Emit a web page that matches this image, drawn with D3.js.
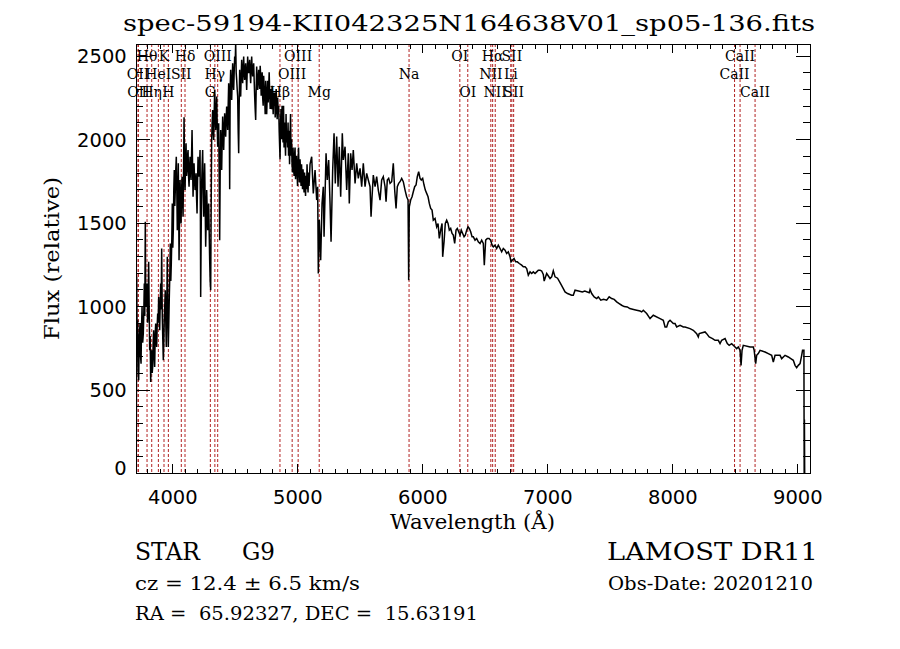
<!DOCTYPE html>
<html><head><meta charset="utf-8">
<script src="https://cdn.jsdelivr.net/npm/d3@7"></script>
<style>body{margin:0;background:#fff}svg{display:block}</style>
</head><body>
<svg id="c" width="900" height="649"></svg>
<script>
// ---------------- data ----------------
const wavelength = [
3711,3713,3715,3719,3723,3727,3731,3736,3742,3746,3750,3754,3758,3763,3768,3772,3776,3780,3784,3787,
3790,3794,3798,3802,3806,3811,3815,3819,3823,3827,3831,3835,3839,3843,3847,3851,3855,3859,3863,3867,
3871,3875,3879,3883,3887,3891,3895,3899,3903,3907,3911,3915,3920,3924,3928,3932,3936,3940,3944,3948,
3952,3956,3960,3964,3968,3972,3976,3980,3984,3988,3992,3996,4000,4004,4008,4012,4016,4020,4024,4028,
4032,4036,4040,4044,4048,4051,4054,4058,4062,4066,4070,4074,4078,4082,4086,4090,4094,4098,4102,4106,
4110,4114,4118,4122,4126,4130,4134,4138,4142,4146,4150,4154,4158,4162,4166,4170,4174,4178,4182,4186,
4190,4194,4198,4202,4206,4210,4214,4218,4222,4225,4227,4231,4235,4239,4243,4247,4251,4255,4259,4263,
4267,4271,4275,4279,4283,4287,4291,4295,4299,4303,4307,4311,4315,4319,4323,4327,4331,4335,4339,4343,
4347,4351,4355,4359,4363,4367,4371,4375,4379,4383,4387,4391,4395,4399,4403,4407,4411,4415,4419,4423,
4427,4431,4435,4439,4443,4447,4451,4455,4459,4463,4467,4471,4475,4479,4483,4487,4491,4495,4499,4503,
4507,4511,4515,4519,4523,4527,4531,4535,4539,4543,4547,4551,4555,4559,4563,4567,4571,4575,4579,4583,
4587,4591,4595,4599,4603,4607,4611,4615,4619,4623,4627,4631,4635,4639,4643,4647,4651,4655,4659,4663,
4667,4671,4675,4679,4683,4687,4691,4695,4699,4703,4707,4711,4715,4719,4723,4727,4731,4735,4739,4743,
4747,4751,4755,4759,4763,4767,4771,4775,4779,4783,4787,4791,4795,4799,4803,4807,4811,4815,4819,4823,
4827,4831,4835,4839,4843,4847,4851,4855,4859,4862,4866,4870,4874,4878,4882,4886,4890,4894,4898,4902,
4906,4910,4914,4918,4922,4926,4930,4934,4938,4942,4946,4950,4954,4958,4962,4966,4970,4974,4978,4982,
4986,4990,4994,4998,5002,5006,5010,5014,5018,5022,5026,5030,5034,5038,5042,5046,5050,5054,5058,5062,
5066,5070,5074,5078,5082,5086,5090,5094,5102,5115,5128,5142,5155,5163,5168,5176,5187,5198,5208,5214,
5230,5240,5251,5262,5270,5283,5294,5304,5315,5326,5336,5347,5360,5368,5382,5395,5408,5416,5427,5438,
5448,5462,5475,5488,5502,5515,5528,5542,5555,5568,5582,5590,5598,5608,5622,5635,5648,5662,5675,5688,
5702,5710,5720,5731,5742,5755,5768,5779,5790,5800,5811,5822,5835,5848,5862,5875,5886,5891,5896,5907,
5918,5928,5939,5950,5960,5971,5982,5992,6003,6014,6024,6035,6046,6056,6067,6078,6088,6102,6115,6126,
6136,6147,6158,6163,6174,6184,6195,6206,6216,6227,6238,6248,6259,6270,6280,6291,6302,6312,6323,6334,
6344,6355,6366,6376,6387,6398,6408,6422,6435,6448,6462,6475,6488,6496,6507,6520,6534,6547,6558,6568,
6582,6595,6608,6622,6635,6648,6662,6675,6688,6702,6710,6720,6734,6747,6760,6776,6795,6808,6822,6835,
6848,6862,6875,6888,6902,6915,6928,6942,6955,6968,6975,6995,7022,7035,7048,7062,7082,7102,7128,7142,
7162,7195,7208,7222,7250,7280,7300,7335,7342,7355,7375,7395,7408,7428,7450,7475,7495,7515,7535,7555,
7575,7595,7615,7640,7660,7690,7715,7742,7755,7768,7795,7822,7848,7902,7928,7942,7955,7968,7982,8008,
8022,8035,8062,8088,8102,8142,8168,8195,8208,8215,8262,8275,8295,8322,8342,8368,8382,8395,8422,8440,
8455,8475,8502,8515,8528,8542,8550,8558,8568,8622,8648,8655,8667,8675,8688,8702,8742,8768,8795,8808,
8822,8862,8875,8902,8928,8948,8968,8982,8995,9008,9022,9035,9042,9053,9055,9057,9059
];
const flux = [
0,480,1175,760,915,620,555,820,895,700,655,880,995,780,835,960,1135,940,1505,1100,
995,1080,1135,900,955,1265,980,735,820,545,700,735,600,635,780,855,700,635,820,895,
800,755,880,955,900,1055,920,855,1000,1135,980,1345,935,800,675,780,935,1010,1095,900,
755,1000,1295,980,755,900,1055,1180,1375,1150,1255,1400,1615,1350,1455,1700,1815,1600,1695,1820,
1895,1700,1455,1650,1855,1600,1275,1550,1755,1620,1495,1680,1775,1650,1535,1800,2131,1850,1695,1850,
1975,1780,1815,1900,1935,1780,1715,1820,1895,1800,1755,1900,2055,1850,1655,1780,1855,1760,1695,1720,
1795,1650,1555,1750,1895,1800,1775,1850,1935,1500,1055,1450,1735,1850,1935,1700,1535,1700,1855,1600,
1355,1500,1695,1580,1455,1550,1615,1450,1275,1150,1095,1600,1995,2100,2175,2050,1995,2150,2295,2150,
2055,2150,2255,2100,1955,2000,2095,1800,1395,1800,2055,1950,1815,2000,2135,2050,1935,2050,2155,2080,
2015,2120,2195,2120,2055,2200,2335,2220,1700,2300,2415,2300,2235,2350,2455,2360,2295,2400,2495,2450,
2575,2400,2355,2300,2255,2050,1915,2200,2415,2300,2255,2380,2475,2400,2335,2420,2495,2400,2355,2420,
2455,2380,2295,2400,2495,2420,2395,2440,2475,2400,2335,2420,2495,2420,2375,2420,2455,2350,2255,2180,
2115,2300,2435,2350,2295,2360,2415,2350,2300,2440,2380,2260,2350,2400,2250,2200,2380,2300,2250,2150,
2350,2280,2150,2250,2350,2220,2300,2400,2280,2180,2300,2220,2180,2320,2250,2150,2280,2200,2280,2130,
2180,2300,2200,2120,2250,2150,2200,2050,1950,1880,2100,2180,2000,2200,2050,1980,2200,1950,2100,2000,
1900,2150,1980,2050,1950,2100,1900,2050,1850,2000,2150,1900,2000,1850,1800,1950,1850,1780,1900,1950,
1760,1850,1900,1800,1720,1850,1950,1800,1740,1880,1800,1720,1850,1760,1700,1820,1750,1680,1800,1720,
1660,1780,1700,1850,1740,1680,1800,1720,1850,1895,1675,1815,1635,1715,1195,1515,1275,1615,1715,1415,
1915,1755,1875,1615,1385,1815,2035,1735,2015,1715,1955,1655,2035,1875,1955,1695,1915,1615,1915,1815,
1935,1735,1855,1765,1825,1715,1855,1715,1795,1755,1715,1535,1655,1785,1715,1775,1695,1635,1755,1775,
1715,1625,1755,1765,1735,1745,1855,1695,1585,1715,1735,1745,1765,1745,1695,1655,1635,1155,1595,1635,
1655,1685,1715,1725,1775,1805,1765,1755,1765,1725,1695,1675,1655,1615,1585,1575,1515,1525,1475,1495,
1405,1455,1495,1295,1385,1495,1515,1495,1455,1465,1435,1425,1375,1455,1465,1445,1425,1455,1435,1415,
1425,1455,1475,1465,1445,1415,1415,1395,1405,1385,1375,1395,1375,1245,1395,1405,1405,1395,1365,1355,
1365,1345,1365,1345,1325,1345,1335,1315,1325,1295,1265,1275,1285,1265,1265,1255,1245,1235,1235,1225,
1185,1205,1195,1205,1195,1205,1215,1215,1210,1190,1150,1195,1165,1175,1211,1175,1167,1140,1105,1085,
1075,1065,1065,1095,1090,1085,1090,1080,1099,1075,1055,1045,1055,1035,1040,1035,1055,1045,1040,1025,
1015,1005,997,995,985,980,975,970,965,975,955,925,945,925,915,875,875,905,915,895,
895,875,885,875,875,865,855,835,815,835,845,835,815,805,795,795,775,795,805,775,
765,775,755,745,755,735,645,735,765,755,755,735,655,705,715,735,725,715,705,665,
705,705,685,705,695,685,675,645,631,645,655,705,735,735,0,320,0
];
const lineNames = ["OII","OII","Hθ","Hη","HeI","K","H","SII","Hδ","G","Hγ","OIII","Hβ","OIII","OIII","Mg",
  "Na","OI","OI","NII","Hα","NII","Li","SII","SII","CaII","CaII","CaII"];
const lineWaves = [3726.0,3728.8,3797.9,3835.4,3888.6,3933.7,3968.5,4072.0,4101.7,4304.4,4340.5,4363.2,4861.3,4958.9,5006.8,5175.3,
  5894.0,6300.3,6363.8,6548.1,6562.8,6583.5,6707.8,6716.4,6730.8,8498.0,8542.1,8662.1];
const lineRows = [2,3,1,3,2,1,3,2,1,3,2,1,3,2,1,3,2,1,3,2,1,3,2,1,3,2,1,3];
const xTicks = [4000,5000,6000,7000,8000,9000];
const yTicks = [0,500,1000,1500,2000,2500];
const titleText = "spec-59194-KII042325N164638V01_sp05-136.fits";
const xLabel = "Wavelength (Å)";
const yLabel = "Flux (relative)";
const infoLeft = ["cz = 12.4 ± 6.5 km/s", "RA =  65.92327, DEC =  15.63191"];
const classText = ["STAR", "G9"];
const infoRight = ["LAMOST DR11", "Obs-Date: 20201210"];

// ---------------- layout ----------------
const L = 136, R = 810, T = 44, B = 473;
const svg = d3.select("#c");
const x = d3.scaleLinear().domain([3709.6, 9101.6]).range([L, R]);
const y = d3.scaleLinear().domain([0, 2570]).range([B, T]);
const serif = "'DejaVu Serif', 'Liberation Serif', serif";
const sans = "'DejaVu Sans', sans-serif";

svg.append("rect").attr("width", 900).attr("height", 649).attr("fill", "#fff");

svg.append("clipPath").attr("id", "clip").append("rect")
  .attr("x", L).attr("y", T).attr("width", R - L).attr("height", B - T);

// line markers
svg.append("g").selectAll("line").data(lineWaves).join("line")
  .attr("x1", d => x(d)).attr("x2", d => x(d))
  .attr("y1", T).attr("y2", B)
  .attr("stroke", "#b22222").attr("stroke-width", 1)
  .attr("stroke-dasharray", "3,2");

// spectrum
const idx = d3.range(wavelength.length);
svg.append("path")
  .attr("clip-path", "url(#clip)")
  .attr("d", d3.line().x(i => x(wavelength[i])).y(i => y(flux[i]))(idx))
  .attr("fill", "none").attr("stroke", "#000").attr("stroke-width", 1.5)
  .attr("stroke-linejoin", "miter");

// line labels
const rowY = [61, 79, 96.5];
svg.append("g").selectAll("text").data(lineNames).join("text")
  .attr("x", (d, i) => x(lineWaves[i]))
  .attr("y", (d, i) => rowY[lineRows[i] - 1])
  .attr("text-anchor", "middle")
  .attr("font-family", serif).attr("font-size", 14)
  .attr("fill", "#000")
  .text(d => d);

// axes
const minorX = d3.range(3800, 9101, 100).filter(v => v % 1000 !== 0);
const minorY = d3.range(100, 2570, 100).filter(v => v % 500 !== 0);
function drawAxis(gen, tr) {
  const g = svg.append("g").attr("transform", tr).call(gen);
  g.select(".domain").remove();
  g.selectAll("line").attr("stroke", "#000").attr("stroke-width", 1).attr("shape-rendering", "crispEdges");
  return g;
}
const bx = drawAxis(d3.axisBottom(x).tickValues(xTicks).tickSize(-9.3).tickFormat(d3.format("d")), `translate(0,${B})`);
bx.selectAll("text").attr("y", 31).attr("dy", 0)
  .attr("font-family", sans).attr("font-size", 19.5).attr("fill", "#000");
drawAxis(d3.axisBottom(x).tickValues(minorX).tickSize(-4.5).tickFormat(""), `translate(0,${B})`);
drawAxis(d3.axisTop(x).tickValues(xTicks).tickSize(-9.3).tickFormat(""), `translate(0,${T})`);
drawAxis(d3.axisTop(x).tickValues(minorX).tickSize(-4.5).tickFormat(""), `translate(0,${T})`);

const ly = drawAxis(d3.axisLeft(y).tickValues(yTicks).tickSize(-14).tickPadding(9.3).tickFormat(d3.format("d")), `translate(${L},0)`);
ly.selectAll("text").attr("dy", "0.37em")
  .attr("font-family", sans).attr("font-size", 19.5).attr("fill", "#000")
  .attr("y", d => d === 0 ? -6 : 0);
drawAxis(d3.axisLeft(y).tickValues(minorY).tickSize(-7).tickFormat(""), `translate(${L},0)`);
drawAxis(d3.axisRight(y).tickValues(yTicks).tickSize(-14).tickFormat(""), `translate(${R},0)`);
drawAxis(d3.axisRight(y).tickValues(minorY).tickSize(-7).tickFormat(""), `translate(${R},0)`);

// frame
svg.append("rect").attr("x", L).attr("y", T).attr("width", R - L).attr("height", B - T)
  .attr("fill", "none").attr("stroke", "#000").attr("stroke-width", 1).attr("shape-rendering", "crispEdges");

// texts
function txt(s, xx, yy, size, len, opts = {}) {
  const t = svg.append("text").attr("x", xx).attr("y", yy)
    .attr("font-family", opts.family || serif).attr("font-size", size)
    .attr("fill", "#000").style("white-space", "pre").text(s);
  if (len) t.attr("textLength", len).attr("lengthAdjust", "spacingAndGlyphs");
  if (opts.transform) t.attr("transform", opts.transform);
  return t;
}
txt(titleText, 123, 31, 22, 692);
txt(xLabel, 390, 529, 19.5, 165);
txt(yLabel, 0, 0, 19.5, 163, { transform: `translate(59,340) rotate(-90)` });
txt(classText[0], 135, 560, 25, 65);
txt(classText[1], 242, 560, 25, 33);
txt(infoLeft[0], 135, 590, 18, 225);
txt(infoLeft[1], 135, 620, 18, 343);
txt(infoRight[0], 607, 560, 25, 211);
txt(infoRight[1], 608, 590, 18, 205);
</script>
</body></html>
